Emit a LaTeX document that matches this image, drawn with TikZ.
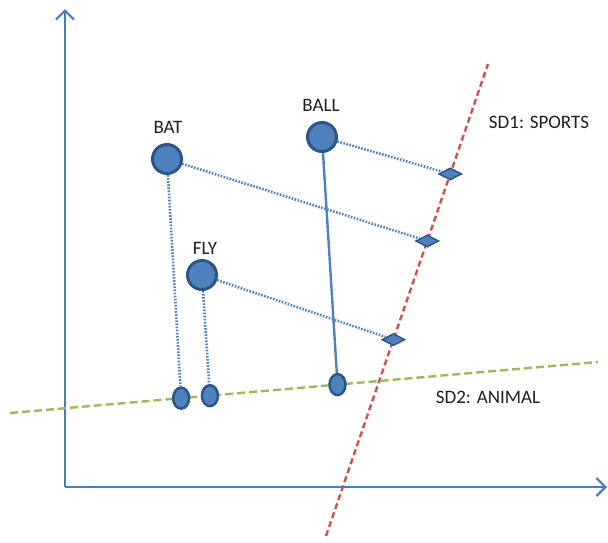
\documentclass[tikz,border=0pt]{standalone}
\usepackage{fontspec}
\setmainfont{Carlito}
\usetikzlibrary{shapes.geometric,arrows.meta}
\definecolor{axisblue}{HTML}{4A7EC4}
\definecolor{wordfill}{HTML}{4F81BD}
\definecolor{worddraw}{HTML}{2C5689}
\definecolor{sdred}{HTML}{D0504D}
\definecolor{sdgreen}{HTML}{9BBB59}
\definecolor{labelgray}{HTML}{1F1F1F}
\begin{document}
\begin{tikzpicture}[
    x=1pt, y=-1pt,
    word/.style={circle, draw=worddraw, fill=wordfill, line width=3pt, minimum size=29pt, inner sep=0pt},
    proj/.style={diamond, solid, draw=worddraw, fill=wordfill, line width=1.5pt, minimum width=23pt, minimum height=12pt, inner sep=0pt},
    dot/.style={ellipse, solid, draw=worddraw, fill=wordfill, line width=2.5pt, minimum width=16pt, minimum height=21pt, inner sep=0pt},
    lbl/.style={text=labelgray, font=\fontsize{19}{22}\selectfont, inner sep=0pt},
    axis/.style={draw=axisblue, line width=2.4pt, -{Straight Barb[length=9pt, width=18pt, line width=2.2pt]}},
    link/.style={draw=wordfill, line width=2.6pt, dash pattern=on 1.6pt off 1.5pt},
    sd1/.style={draw=sdred, line width=2.4pt, dash pattern=on 6pt off 3.5pt},
    sd2/.style={draw=sdgreen, line width=2.4pt, dash pattern=on 8pt off 4pt}
]
    \useasboundingbox (0,0) rectangle (608,542);

    % axes
    \coordinate (o) at (65,487);
    \coordinate (ytop) at (65,9);
    \coordinate (xend) at (607,487);
    \draw[axis] (o) -- (ytop);
    \draw[axis] (o) -- (xend);

    % semantic dimensions
    \coordinate (g1) at (10,413);
    \coordinate (g2) at (598,362);
    \coordinate (r1) at (326,536);
    \coordinate (r2) at (488,64);
    \draw[sd2] (g1) -- (g2)
        node[pos=0.291, dot] (batp) {}
        node[pos=0.340, dot] (flyp) {}
        node[pos=0.557, dot] (ballp) {};
    \draw[sd1] (r1) -- (r2)
        node[pos=0.767, proj] (ballq) {}
        node[pos=0.625, proj] (batq) {}
        node[pos=0.416, proj] (flyq) {};

    \node[lbl] (sdone) at (539,122) {SD1: SPORTS};
    \node[lbl] (sdtwo) at (488,397) {SD2: ANIMAL};

    % words
    \node[word] (bat) at (167,159) {};
    \node[word] (ball) at (322,137) {};
    \node[word] (fly) at (202,275) {};
    \node[lbl] (batl) at (168,127) {BAT};
    \node[lbl] (balll) at (321,105) {BALL};
    \node[lbl] (flyl) at (205,248) {FLY};

    % projections
    \draw[link] (ball) -- (ballq);
    \draw[link] (bat) -- (batq);
    \draw[link] (fly) -- (flyq);
    \draw[link] (bat) -- (batp);
    \draw[link] (fly) -- (flyp);
    \draw[draw=wordfill, line width=2.4pt] (ball) -- (ballp);
\end{tikzpicture}
\end{document}
